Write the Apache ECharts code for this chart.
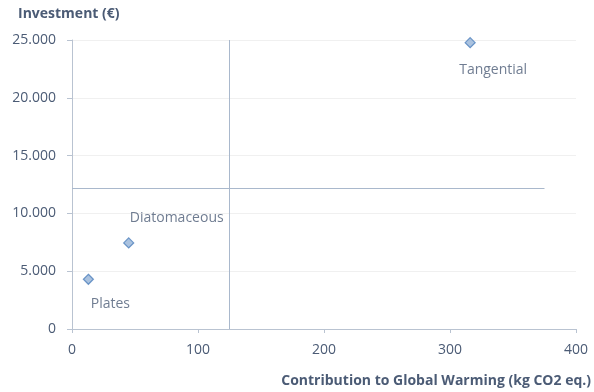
<!DOCTYPE html>
<html>
<head>
<meta charset="utf-8">
<script src="https://cdn.jsdelivr.net/npm/echarts@6/dist/echarts.min.js"></script>
<style>
  html, body { margin: 0; padding: 0; background: #fff; }
  #chart { width: 594px; height: 392px; }
</style>
</head>
<body>
<div id="chart"></div>
<script>
// Filtration technologies: climate impact vs. investment
const names = ['Plates', 'Diatomaceous', 'Tangential'];
const warming = [13, 45, 316];          // kg CO2 eq.
const investment = [4300, 7450, 24770];  // €
const labelPos = [[22, 25], [48, -25], [23, 27]];
const hLineEnd = 375;

const mean = a => a.reduce((s, v) => s + v, 0) / a.length;
const crossX = mean(warming);
const crossY = mean(investment);

const textColor = '#4b5b75';
const axisColor = '#b9c3d1';
const font = '"Open Sans", "Noto Sans", sans-serif';

const fmtThousands = v => String(v).replace(/\B(?=(\d{3})+(?!\d))/g, '.');

const points = names.map((n, i) => ({
  name: n,
  value: [warming[i], investment[i]],
  label: { offset: labelPos[i] }
}));

const chart = echarts.init(document.getElementById('chart'), null, { renderer: 'canvas' });
chart.setOption({
  animation: false,
  grid: { left: 72, right: 17, top: 40, bottom: 63 },
  xAxis: {
    type: 'value', min: 0, max: 400, interval: 100,
    name: 'Contribution to Global Warming (kg CO2 eq.)',
    nameLocation: 'end',
    nameGap: 0,
    nameTextStyle: { color: textColor, fontFamily: font, fontSize: 14, fontWeight: 'bold',
      align: 'right', verticalAlign: 'top', padding: [45, -15, 0, 0] },
    axisLine: { show: true, lineStyle: { color: axisColor, width: 1 } },
    axisTick: { show: true, length: 4, lineStyle: { color: axisColor } },
    axisLabel: { color: textColor, fontFamily: font, fontSize: 14, margin: 14 },
    splitLine: { show: false }
  },
  yAxis: {
    type: 'value', min: 0, max: 25000, interval: 5000,
    name: 'Investment (€)',
    nameLocation: 'end',
    nameGap: 0,
    nameTextStyle: { color: textColor, fontFamily: font, fontSize: 14, fontWeight: 'bold',
      align: 'left', verticalAlign: 'bottom', padding: [0, 0, 19, -54] },
    axisLine: { show: true, lineStyle: { color: axisColor, width: 1 } },
    axisTick: { show: true, length: 5, lineStyle: { color: axisColor } },
    axisLabel: { color: textColor, fontFamily: font, fontSize: 14, margin: 16,
      formatter: fmtThousands },
    splitLine: { show: true, lineStyle: { color: '#f0f0f0', width: 1 } }
  },
  series: [
    {
      type: 'scatter',
      symbol: 'diamond',
      symbolSize: 10,
      itemStyle: { color: '#95b3d7', borderColor: '#4f81bd', borderWidth: 1.2 },
      label: {
        show: true, position: 'inside', formatter: p => p.name,
        color: textColor, fontFamily: font, fontSize: 14
      },
      data: points,
      markLine: {
        silent: true,
        symbol: 'none',
        label: { show: false },
        lineStyle: { color: '#a9b8cc', width: 1, type: 'solid' },
        data: [
          [{ coord: [crossX, 0] }, { coord: [crossX, 25000] }],
          [{ coord: [0, crossY] }, { coord: [hLineEnd, crossY] }]
        ]
      },
      z: 3
    }
  ]
});
</script>
</body>
</html>
